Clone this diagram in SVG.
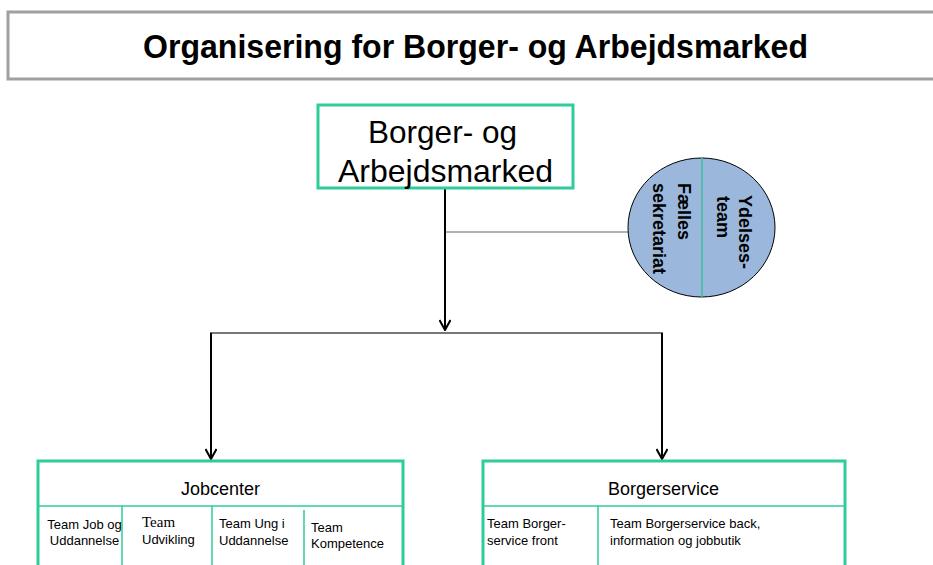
<svg xmlns="http://www.w3.org/2000/svg" width="933" height="565" viewBox="0 0 933 565">
  <style>
    text { font-family: "Liberation Sans", Arial, sans-serif; fill: #000; }
    .box { fill: #fff; stroke: #2ecc9a; stroke-width: 3; }
    .div { stroke: #2ecc9a; stroke-width: 1.5; fill: none; }
    .arrow { stroke: #000; stroke-width: 2; fill: none; marker-end: url(#arr); }
    .t13 { font-size: 13px; }
  </style>
  <defs>
    <marker id="arr" viewBox="0 0 12 12" refX="11" refY="6" markerWidth="12" markerHeight="12" markerUnits="userSpaceOnUse" orient="auto">
      <path d="M1,0.5 L11,6 L1,11.5" fill="none" stroke="#000" stroke-width="2"/>
    </marker>
  </defs>
  <rect width="933" height="565" fill="#fff"/>

  <g id="title">
    <rect x="8" y="12" width="935" height="67" fill="#fff" stroke="#a0a0a0" stroke-width="3"/>
    <text x="143" y="58" font-size="34" font-weight="bold" textLength="665" lengthAdjust="spacingAndGlyphs">Organisering for Borger- og Arbejdsmarked</text>
  </g>

  <g id="connectors">
    <line x1="445" y1="232" x2="628" y2="232" stroke="#666" stroke-width="1.2"/>
    <line x1="445" y1="188" x2="445" y2="330" class="arrow"/>
    <line x1="210" y1="333" x2="663" y2="333" stroke="#777" stroke-width="2"/>
    <line x1="211" y1="333" x2="211" y2="459" class="arrow"/>
    <line x1="662" y1="333" x2="662" y2="459" class="arrow"/>
  </g>

  <g id="node-top">
    <rect x="318" y="105" width="255" height="83" class="box"/>
    <text x="368" y="143" font-size="32" textLength="149" lengthAdjust="spacingAndGlyphs">Borger- og</text>
    <text x="338" y="182" font-size="32" textLength="215" lengthAdjust="spacingAndGlyphs">Arbejdsmarked</text>
  </g>

  <g id="node-circle">
    <ellipse cx="701.5" cy="227.5" rx="73.5" ry="69.5" fill="#9bb8dc" stroke="#000" stroke-width="1"/>
    <line x1="702" y1="158" x2="702" y2="297" stroke="#3cbf9f" stroke-width="1.5"/>
    <text transform="translate(739,195) rotate(90)" font-size="18" font-weight="bold">Ydelses-</text>
    <text transform="translate(717,196) rotate(90)" font-size="18" font-weight="bold">team</text>
    <text transform="translate(678,183) rotate(90)" font-size="18" font-weight="bold">Fælles</text>
    <text transform="translate(653,183) rotate(90)" font-size="18" font-weight="bold">sekretariat</text>
  </g>

  <g id="node-jobcenter">
    <rect x="38" y="461" width="365" height="130" class="box"/>
    <line x1="38" y1="506" x2="403" y2="506" class="div" stroke-width="3"/>
    <line x1="122" y1="506" x2="122" y2="570" class="div"/>
    <line x1="212" y1="506" x2="212" y2="570" class="div" stroke="#7fe0c0"/>
    <line x1="304" y1="510" x2="304" y2="570" class="div"/>
    <text x="220.5" y="495" font-size="18" text-anchor="middle">Jobcenter</text>
    <text class="t13" x="84.5" y="529" text-anchor="middle">Team Job og</text>
    <text class="t13" x="84.5" y="545" text-anchor="middle">Uddannelse</text>
    <text x="142" y="527" font-size="15" style="font-family:'Liberation Serif','Times New Roman',serif">Team</text>
    <text class="t13" x="142" y="544">Udvikling</text>
    <text class="t13" x="219" y="528">Team Ung i</text>
    <text class="t13" x="219" y="545">Uddannelse</text>
    <text class="t13" x="311" y="532">Team</text>
    <text class="t13" x="311" y="548">Kompetence</text>
  </g>

  <g id="node-borgerservice">
    <rect x="483" y="461" width="362" height="130" class="box"/>
    <line x1="483" y1="506" x2="845" y2="506" class="div" stroke-width="3"/>
    <line x1="598" y1="506" x2="598" y2="570" class="div"/>
    <text x="663.5" y="495" font-size="18" text-anchor="middle">Borgerservice</text>
    <text class="t13" x="487" y="528">Team Borger-</text>
    <text class="t13" x="487" y="545">service front</text>
    <text class="t13" x="610" y="528">Team Borgerservice back,</text>
    <text class="t13" x="610" y="545">information og jobbutik</text>
  </g>
</svg>
